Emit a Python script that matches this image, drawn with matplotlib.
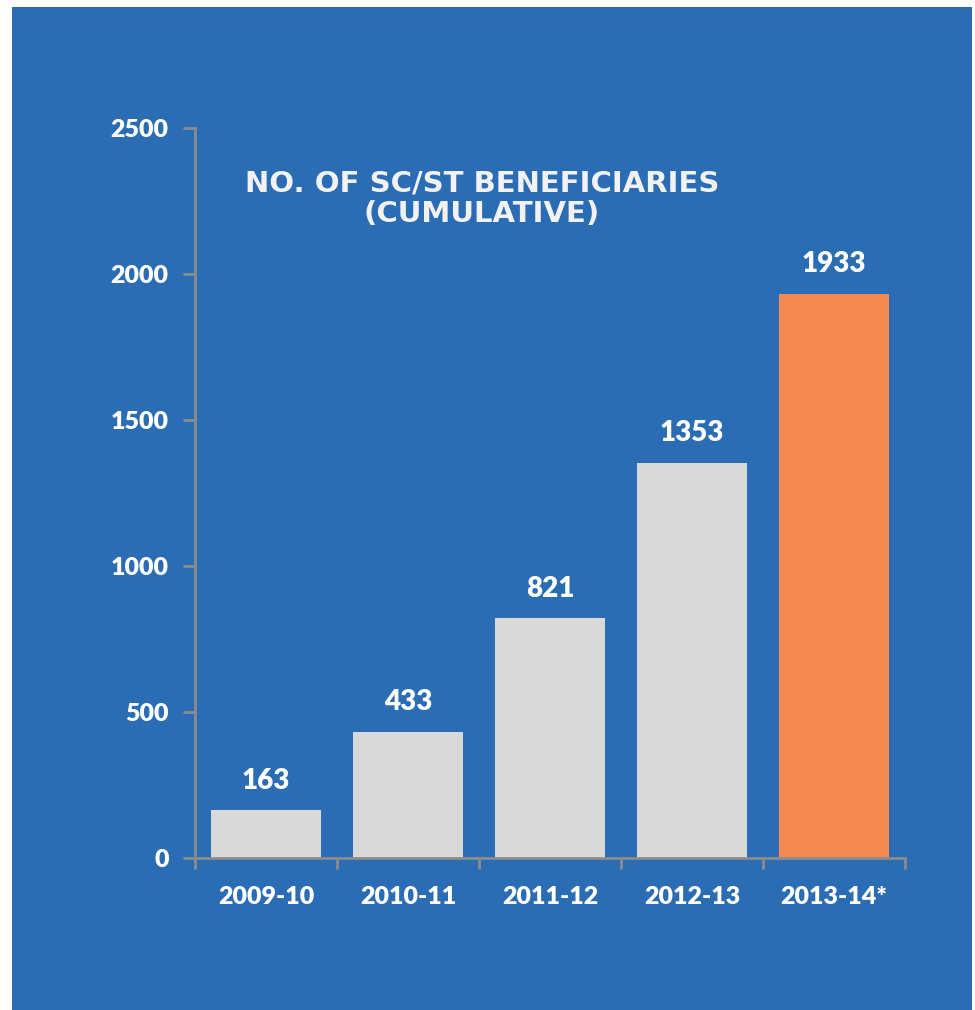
import matplotlib.pyplot as plt
from matplotlib.patches import Rectangle
from matplotlib.ticker import FixedLocator

years = ["2009-10", "2010-11", "2011-12", "2012-13", "2013-14*"]
beneficiaries = [163, 433, 821, 1353, 1933]
yticks = [0, 500, 1000, 1500, 2000, 2500]

bg = "#2b6db4"
grey_bar = "#d9d9d9"
orange_bar = "#f58a50"
axis_grey = "#8c8c8c"
label_font = ["Lato", "DejaVu Sans"]
label_weight = "heavy"

fig = plt.figure(figsize=(9.75, 10.1), dpi=100)
fig.patch.set_facecolor("white")
# blue panel behind the chart
panel = Rectangle((12 / 975, 0), 960 / 975, 1003 / 1010,
                  transform=fig.transFigure, facecolor=bg,
                  edgecolor="none", zorder=-10)
fig.add_artist(panel)

ax = fig.add_axes([195 / 975, 1 - 858 / 1010, 710 / 975, 730 / 1010])
ax.set_facecolor("none")
ax.set_zorder(5)

colors = [grey_bar] * (len(years) - 1) + [orange_bar]
x = range(len(years))
bars = ax.bar(x, beneficiaries, width=0.775, color=colors, zorder=2)

for b, v in zip(bars, beneficiaries):
    ax.annotate(str(v), (b.get_x() + b.get_width() / 2, v),
                xytext=(0, 12), textcoords="offset points",
                ha="center", va="bottom", color="white",
                fontsize=20, fontweight=label_weight, family=label_font)

ax.set_xlim(-0.5, len(years) - 0.5)
ax.set_ylim(0, 2500)
ax.set_yticks(yticks)

ax.set_xticks(list(x))
ax.set_xticklabels(years)
ax.xaxis.set_minor_locator(FixedLocator([i - 0.5 for i in range(len(years) + 1)]))
ax.tick_params(axis="x", which="major", length=0, pad=20)
ax.tick_params(axis="x", which="minor", length=8, width=2, color=axis_grey)
ax.tick_params(axis="y", length=9, width=2, color=axis_grey, pad=10)

for lbl in ax.get_xticklabels() + ax.get_yticklabels():
    lbl.set_color("white")
    lbl.set_fontsize(18)
    lbl.set_fontweight(label_weight)
    lbl.set_family(label_font)

for side in ["top", "right"]:
    ax.spines[side].set_visible(False)
for side in ["left", "bottom"]:
    ax.spines[side].set_color(axis_grey)
    ax.spines[side].set_linewidth(2)

fig.text(482 / 975, 1 - 199 / 1010, "NO. OF SC/ST BENEFICIARIES\n(CUMULATIVE)",
         ha="center", va="center", color="#f2f2f2", fontsize=21,
         fontweight="bold", family="DejaVu Sans", linespacing=1.1)

fig.savefig("out.png", dpi=100, facecolor=fig.get_facecolor())
